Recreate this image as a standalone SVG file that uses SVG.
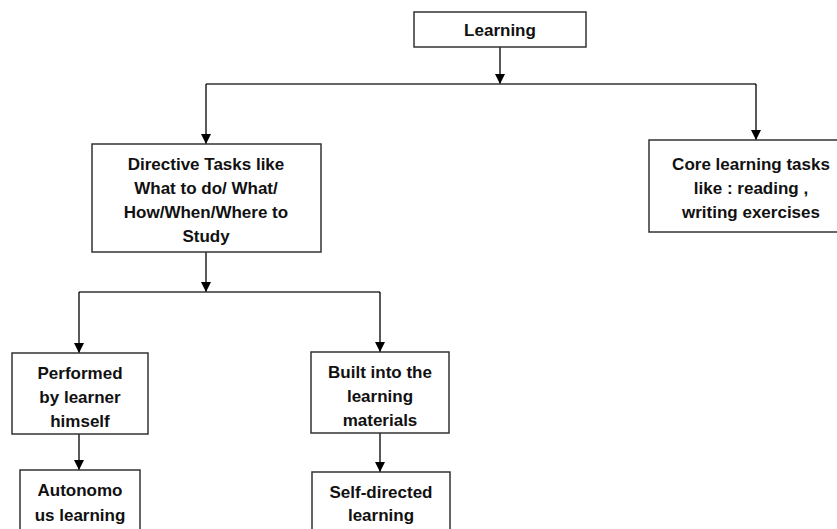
<svg xmlns="http://www.w3.org/2000/svg" width="837" height="529" viewBox="0 0 837 529">
<defs>
<marker id="ah" markerWidth="10" markerHeight="10" refX="10" refY="5" orient="auto" markerUnits="userSpaceOnUse">
<path d="M0,0 L10,5 L0,10 Z" fill="#000"/>
</marker>
<style>
.box{fill:#fff;stroke:#333;stroke-width:1.5}
.ln{fill:none;stroke:#333;stroke-width:1.3}
.ar{fill:none;stroke:#000;stroke-width:1.3;marker-end:url(#ah)}
text{font-family:"Liberation Sans",Arial,sans-serif;font-weight:bold;font-size:17px;fill:#111;text-anchor:middle}
</style>
</defs>
<rect width="837" height="529" fill="#fff"/>
<g id="connectors">
<path class="ar" d="M500,47 V84"/>
<path class="ln" d="M206,84 H756"/>
<path class="ar" d="M206,84 V144"/>
<path class="ar" d="M756,84 V140"/>
<path class="ar" d="M206,252 V292"/>
<path class="ln" d="M79,292 H380"/>
<path class="ar" d="M79,292 V353"/>
<path class="ar" d="M380,292 V352"/>
<path class="ar" d="M79,434 V470"/>
<path class="ar" d="M380,433 V472"/>
</g>
<g id="learning">
<rect class="box" x="414" y="12" width="172" height="35"/>
<text x="500" y="36">Learning</text>
</g>
<g id="directive">
<rect class="box" x="92" y="144" width="229" height="108"/>
<text x="206" y="170">Directive Tasks like</text>
<text x="206" y="194">What to do/ What/</text>
<text x="206" y="218">How/When/Where to</text>
<text x="206" y="242">Study</text>
</g>
<g id="core">
<rect class="box" x="649" y="140" width="205" height="92"/>
<text x="751" y="170">Core learning tasks</text>
<text x="751" y="194">like : reading ,</text>
<text x="751" y="218">writing exercises</text>
</g>
<g id="performed">
<rect class="box" x="12" y="353" width="136" height="81"/>
<text x="80" y="379">Performed</text>
<text x="80" y="403">by learner</text>
<text x="80" y="427">himself</text>
</g>
<g id="built">
<rect class="box" x="311" y="352" width="138" height="81"/>
<text x="380" y="378">Built into the</text>
<text x="380" y="402">learning</text>
<text x="380" y="426">materials</text>
</g>
<g id="autonomous">
<rect class="box" x="20" y="470" width="120" height="70"/>
<text x="80" y="496">Autonomo</text>
<text x="80" y="521">us learning</text>
</g>
<g id="selfdirected">
<rect class="box" x="312" y="472" width="138" height="70"/>
<text x="381" y="498">Self-directed</text>
<text x="381" y="521">learning</text>
</g>
</svg>
